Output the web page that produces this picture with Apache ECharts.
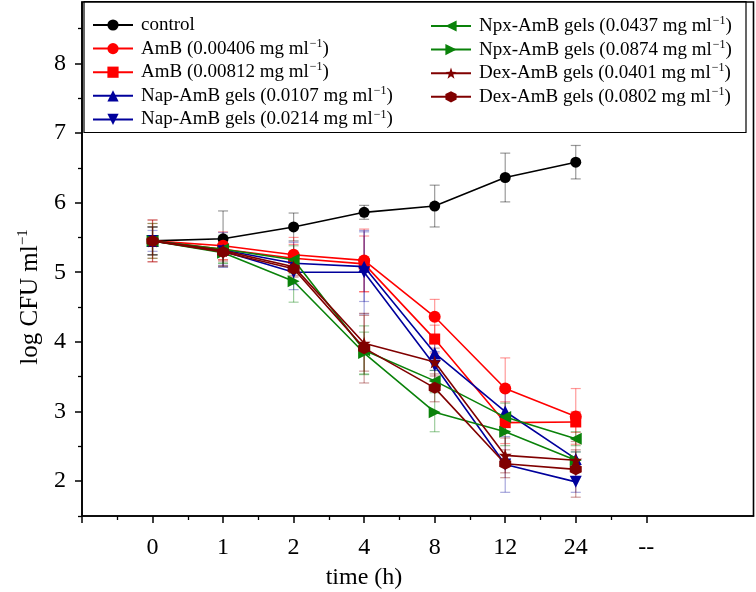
<!DOCTYPE html>
<html>
<head>
<meta charset="utf-8">
<script src="https://cdn.jsdelivr.net/npm/echarts@6/dist/echarts.min.js"></script>
<style>html,body{margin:0;padding:0;background:#fff}#c{width:756px;height:592px}</style>
</head>
<body>
<div id="c"></div>
<script>
// ---- data ----
const timeLabels = ['0', '1', '2', '4', '8', '12', '24', '--'];
const seriesNames = [
  'control',
  'AmB (0.00406 mg ml⁻¹)',
  'AmB (0.00812 mg ml⁻¹)',
  'Nap-AmB gels (0.0107 mg ml⁻¹)',
  'Nap-AmB gels (0.0214 mg ml⁻¹)',
  'Npx-AmB gels (0.0437 mg ml⁻¹)',
  'Npx-AmB gels (0.0874 mg ml⁻¹)',
  'Dex-AmB gels (0.0401 mg ml⁻¹)',
  'Dex-AmB gels (0.0802 mg ml⁻¹)'
];
const control = [5.45, 5.48, 5.65, 5.86, 5.95, 6.36, 6.58];
const amb1    = [5.45, 5.38, 5.25, 5.17, 4.36, 3.33, 2.93];
const amb2    = [5.45, 5.33, 5.20, 5.12, 4.04, 2.84, 2.85];
const nap1    = [5.45, 5.32, 5.13, 5.08, 3.84, 3.00, 2.32];
const nap2    = [5.45, 5.30, 5.00, 5.00, 3.66, 2.24, 1.99];
const npx1    = [5.45, 5.33, 5.18, 3.88, 3.44, 2.92, 2.61];
const npx2    = [5.45, 5.28, 4.87, 3.84, 2.99, 2.71, 2.30];
const dex1    = [5.45, 5.31, 5.08, 3.98, 3.71, 2.37, 2.30];
const dex2    = [5.45, 5.29, 5.05, 3.91, 3.34, 2.25, 2.17];

const errControl = [0.20, 0.40, 0.20, 0.10, 0.30, 0.35, 0.24];
const errAmb1    = [0.30, 0.20, 0.25, 0.45, 0.25, 0.44, 0.40];
const errAmb2    = [0.25, 0.15, 0.20, 0.40, 0.20, 0.30, 0.15];
const errNap1    = [0.20, 0.25, 0.30, 0.50, 0.25, 0.30, 0.10];
const errNap2    = [0.15, 0.20, 0.25, 0.60, 0.20, 0.40, 0.15];
const errNpx1    = [0.20, 0.20, 0.20, 0.35, 0.15, 0.20, 0.10];
const errNpx2    = [0.25, 0.15, 0.30, 0.30, 0.28, 0.20, 0.12];
const errDex1    = [0.30, 0.15, 0.15, 0.40, 0.20, 0.25, 0.15];
const errDex2    = [0.20, 0.20, 0.10, 0.50, 0.20, 0.20, 0.40];

const yTickLabels = [2, 3, 4, 5, 6, 7, 8];

// ---- styling ----
const values = [control, amb1, amb2, nap1, nap2, npx1, npx2, dex1, dex2];
const errors = [errControl, errAmb1, errAmb2, errNap1, errNap2, errNpx1, errNpx2, errDex1, errDex2];
const colors = ['#000000', '#ff0000', '#ff0000', '#00009c', '#00009c', '#0a820a', '#0a820a', '#800000', '#800000'];
const errColors = ['rgba(0,0,0,0.4)', 'rgba(255,0,0,0.4)', 'rgba(255,0,0,0.4)', 'rgba(0,0,156,0.35)', 'rgba(0,0,156,0.35)',
  'rgba(10,130,10,0.4)', 'rgba(10,130,10,0.4)', 'rgba(128,0,0,0.4)', 'rgba(128,0,0,0.4)'];
const STAR = 'path://M0,-10 L2.35,-3.24 9.51,-3.09 3.8,1.24 5.88,8.09 0,4 -5.88,8.09 -3.8,1.24 -9.51,-3.09 -2.35,-3.24 Z';
const HEX = 'path://M0,-10 L8.66,-5 8.66,5 0,10 -8.66,5 -8.66,-5 Z';
const symbols = ['circle', 'circle', 'rect', 'triangle', 'triangle', 'triangle', 'triangle', STAR, HEX];
const rotates = [0, 0, 0, 0, 180, 90, -90, 0, 0];
const sizes = [11, 12, 11, 12, 12, 12, 12, 13, 12];
const FONT = '"Liberation Serif", "DejaVu Serif", serif';

const xIdx = timeLabels.slice(0, 7).map((_, i) => i);

const series = [];
values.forEach((vals, k) => {
  series.push({
    type: 'custom',
    name: seriesNames[k] + ' err',
    z: 1,
    silent: true,
    xAxisIndex: 0, yAxisIndex: 0,
    data: vals.map((v, i) => [xIdx[i], v - errors[k][i], v + errors[k][i]]),
    encode: { x: 0, y: [1, 2] },
    renderItem: function (params, api) {
      const x = api.value(0), lo = api.value(1), hi = api.value(2);
      const a = api.coord([x, lo]), b = api.coord([x, hi]);
      const w = 5;
      const st = { stroke: errColors[k], lineWidth: 1.2 };
      return {
        type: 'group',
        children: [
          { type: 'line', shape: { x1: a[0], y1: a[1], x2: b[0], y2: b[1] }, style: st },
          { type: 'line', shape: { x1: a[0] - w, y1: a[1], x2: a[0] + w, y2: a[1] }, style: st },
          { type: 'line', shape: { x1: b[0] - w, y1: b[1], x2: b[0] + w, y2: b[1] }, style: st }
        ]
      };
    }
  });
});
values.forEach((vals, k) => {
  series.push({
    type: 'line',
    name: seriesNames[k],
    z: 3 + k,
    xAxisIndex: 0, yAxisIndex: 0,
    data: vals.map((v, i) => [xIdx[i], v]),
    symbol: symbols[k],
    symbolRotate: rotates[k],
    symbolSize: sizes[k],
    showAllSymbol: true,
    lineStyle: { color: colors[k], width: 1.6 },
    itemStyle: { color: colors[k], borderWidth: 0 },
    animation: false
  });
});

function supFmt(name) {
  return name.replace('⁻¹', '{sup|−1}').replace(/^([^{]*)/, '{n|$1}').replace(/\}\)$/, '}{n|)}');
}
const legendText = {
  fontFamily: FONT, fontSize: 19, color: '#000', padding: [0, 0, 0, 3],
  rich: {
    n: { fontFamily: FONT, fontSize: 19, color: '#000', lineHeight: 22 },
    sup: { fontFamily: FONT, fontSize: 12, color: '#000', verticalAlign: 'top', lineHeight: 22, padding: [0, 0, 0, 1] }
  }
};
const legendCommon = {
  orient: 'vertical', itemWidth: 40, itemHeight: 14, itemGap: 3.1, padding: 0,
  textStyle: legendText, formatter: supFmt, selectedMode: false
};

const option = {
  animation: false,
  backgroundColor: '#fff',
  grid: { left: 82, right: 2.5, top: 2, bottom: 76, show: true, borderColor: '#000', borderWidth: 1.6, containLabel: false },
  legend: [
    Object.assign({}, legendCommon, { left: 92, top: 15.5, data: seriesNames.slice(0, 5) }),
    Object.assign({}, legendCommon, { left: 430, top: 15, data: seriesNames.slice(5) })
  ],
  xAxis: [
    {
      type: 'value', min: -1, max: 8.52, position: 'bottom',
      axisLine: { show: true, onZero: false, lineStyle: { color: '#000', width: 1.6 } },
      axisTick: { show: true, length: 7, lineStyle: { color: '#000', width: 1.5 }, customValues: [-1, 0, 1, 2, 3, 4, 5, 6, 7] },
      axisLabel: { show: true, margin: 20, fontFamily: FONT, fontSize: 24, color: '#000',
        customValues: [0, 1, 2, 3, 4, 5, 6, 7], formatter: v => timeLabels[Math.round(v)] },
      splitLine: { show: false }
    },
    {
      type: 'value', min: -1, max: 8.52, position: 'bottom',
      axisLine: { show: false, onZero: false },
      axisTick: { show: true, length: 4, lineStyle: { color: '#000', width: 1.3 }, customValues: [-0.5, 0.5, 1.5, 2.5, 3.5, 4.5, 5.5, 6.5] },
      axisLabel: { show: false },
      splitLine: { show: false }
    }
  ],
  yAxis: [
    {
      type: 'value', min: 1.5, max: 8.88, position: 'left',
      axisLine: { show: true, onZero: false, lineStyle: { color: '#000', width: 1.6 } },
      axisTick: { show: true, length: 7, lineStyle: { color: '#000', width: 1.5 }, customValues: yTickLabels },
      axisLabel: { show: true, margin: 16, fontFamily: FONT, fontSize: 24, color: '#000', customValues: yTickLabels },
      splitLine: { show: false }
    },
    {
      type: 'value', min: 1.5, max: 8.88, position: 'left',
      axisLine: { show: false, onZero: false },
      axisTick: { show: true, length: 4, lineStyle: { color: '#000', width: 1.3 }, customValues: [1.5, 2.5, 3.5, 4.5, 5.5, 6.5, 7.5, 8.5] },
      axisLabel: { show: false },
      splitLine: { show: false }
    }
  ],
  graphic: [
    { type: 'rect', z: 0, shape: { x: 84, y: 1.5, width: 662, height: 131 }, style: { fill: 'none', stroke: '#000', lineWidth: 1.2 } },
    { type: 'text', x: 364, y: 578, style: { text: 'time (h)', font: '24px ' + FONT, fill: '#000', align: 'center', verticalAlign: 'middle' } },
    { type: 'text', x: 30, y: 297, rotation: Math.PI / 2,
      style: { text: '{n|log CFU ml}{sup|−1}', align: 'center', verticalAlign: 'middle',
        rich: { n: { fontFamily: FONT, fontSize: 25, fill: '#000', lineHeight: 28 },
                sup: { fontFamily: FONT, fontSize: 15, fill: '#000', verticalAlign: 'top', lineHeight: 28 } } } }
  ],
  series: series
};

const chart = echarts.init(document.getElementById('c'), null, { renderer: 'canvas' });
chart.setOption(option);
</script>
</body>
</html>
